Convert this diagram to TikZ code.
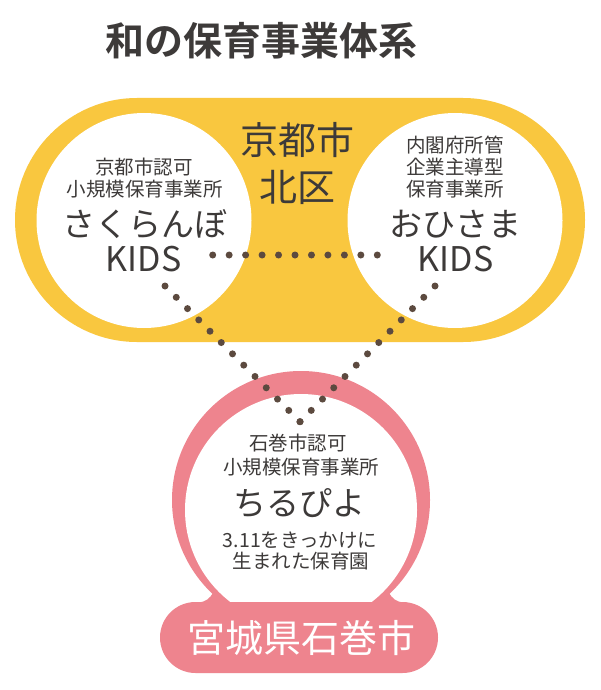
\documentclass[tikz,border=0pt]{standalone}
\usepackage{fontspec}
\setmainfont{Noto Sans CJK JP}[BoldFont={Noto Sans CJK JP Bold}]
\usepackage{tikz}
\usetikzlibrary{calc}
\definecolor{sunflower}{RGB}{249, 199, 63}
\definecolor{blossom}{RGB}{238, 132, 142}
\definecolor{cocoa}{RGB}{92, 74, 63}
\definecolor{charcoal}{RGB}{61, 58, 57}
\tikzset{
  disc/.style={circle, fill=white, inner sep=0pt, minimum size=#1},
  smalltext/.style={text=charcoal, inner sep=0pt, font=\fontsize{19.5}{20}\selectfont},
  kanatext/.style={text=charcoal, inner sep=0pt, font=\fontsize{33}{34}\selectfont},
  kidstext/.style={text=charcoal, inner sep=0pt, font=\fontsize{34}{35}\selectfont},
  areatext/.style={text=charcoal, inner sep=0pt, font=\fontsize{38}{39}\selectfont},
}

\begin{document}
\begin{tikzpicture}[x=1pt, y=-1pt]
            % Frame to fix the page size:
            \useasboundingbox[fill=white]                                 (  0.0,   0.0) rectangle ( 600.0, 690.0);
            \node[text=charcoal, inner sep=0pt, font=\fontsize{39}{40}\selectfont\bfseries]
                 (title)    at (261.0,  41.0) {和の保育事業体系};
            % Kyoto area:
            \fill[sunflower, rounded corners=122pt]                        ( 15.0,  98.0) rectangle ( 585.0, 342.0);
            \node[disc=215pt] (sakura)   at (144.0, 220.5) {};
            \node[disc=215pt] (ohisama)  at (455.0, 220.5) {};
            \node[areatext]   (kyoto)    at (297.0, 140.0) {京都市};
            \node[areatext]   (kita)     at (297.5, 187.0) {北区};
            % Ishinomaki area:
            \fill[blossom]                                                 (301.0, 500.0) circle    (129.0);
            \node[disc=232pt] (chirupiyo) at (301.0, 510.0) {};
            \fill[blossom, rounded corners=35.5pt]                         (160.0, 602.0) rectangle ( 438.0, 673.0);
            \fill[blossom] (198.0, 602.5) .. controls (206.0, 602.0) and (210.0, 598.0) .. (213.0, 593.0) -- (228.0, 604.0) -- cycle;
            \fill[blossom] (404.0, 602.5) .. controls (396.0, 602.0) and (392.0, 598.0) .. (389.0, 593.0) -- (374.0, 604.0) -- cycle;
            \node[areatext, text=white] (miyagi) at (301.0, 638.5) {宮城県石巻市};
            % Texts inside the circles:
            \node[smalltext]  (sakuraA)  at (144.0, 167.5) {京都市認可};
            \node[smalltext]  (sakuraB)  at (144.5, 189.0) {小規模保育事業所};
            \node[kanatext]   (sakuraC)  at (145.0, 224.0) {さくらんぼ};
            \node[kidstext]   (sakuraD)  at (143.5, 259.5) {KIDS};
            \node[smalltext]  (ohisamaA) at (455.0, 145.0) {内閣府所管};
            \node[smalltext]  (ohisamaB) at (455.0, 167.0) {企業主導型};
            \node[smalltext]  (ohisamaC) at (455.0, 189.0) {保育事業所};
            \node[kanatext]   (ohisamaD) at (455.0, 224.5) {おひさま};
            \node[kidstext]   (ohisamaE) at (455.5, 259.5) {KIDS};
            \node[smalltext]  (chiruA)   at (298.0, 443.5) {石巻市認可};
            \node[smalltext]  (chiruB)   at (301.0, 467.5) {小規模保育事業所};
            \node[kanatext]   (chiruC)   at (299.0, 503.5) {ちるぴよ};
            \node[smalltext]  (chiruD)   at (300.0, 540.0) {3.11をきっかけに};
            \node[smalltext]  (chiruE)   at (301.0, 561.0) {生まれた保育園};
            % Dotted links:
            \coordinate (sakuraEast)   at (212.7, 255.0);
            \coordinate (ohisamaWest)  at (377.3, 255.0);
            \coordinate (sakuraSouth)  at (165.0, 286.0);
            \coordinate (ohisamaSouth) at (435.0, 286.0);
            \coordinate (chiruNorth)   at (300.0, 421.7);
            \foreach \i in {0,...,10}
                 \fill[cocoa] ($(sakuraEast)!\i/10!(ohisamaWest)$)  circle (3.5);
            \foreach \i in {0,...,12}{
                 \fill[cocoa] ($(sakuraSouth)!\i/12!(chiruNorth)$)  circle (3.5);
                 \fill[cocoa] ($(ohisamaSouth)!\i/12!(chiruNorth)$) circle (3.5);
            }
\end{tikzpicture}
\end{document}
